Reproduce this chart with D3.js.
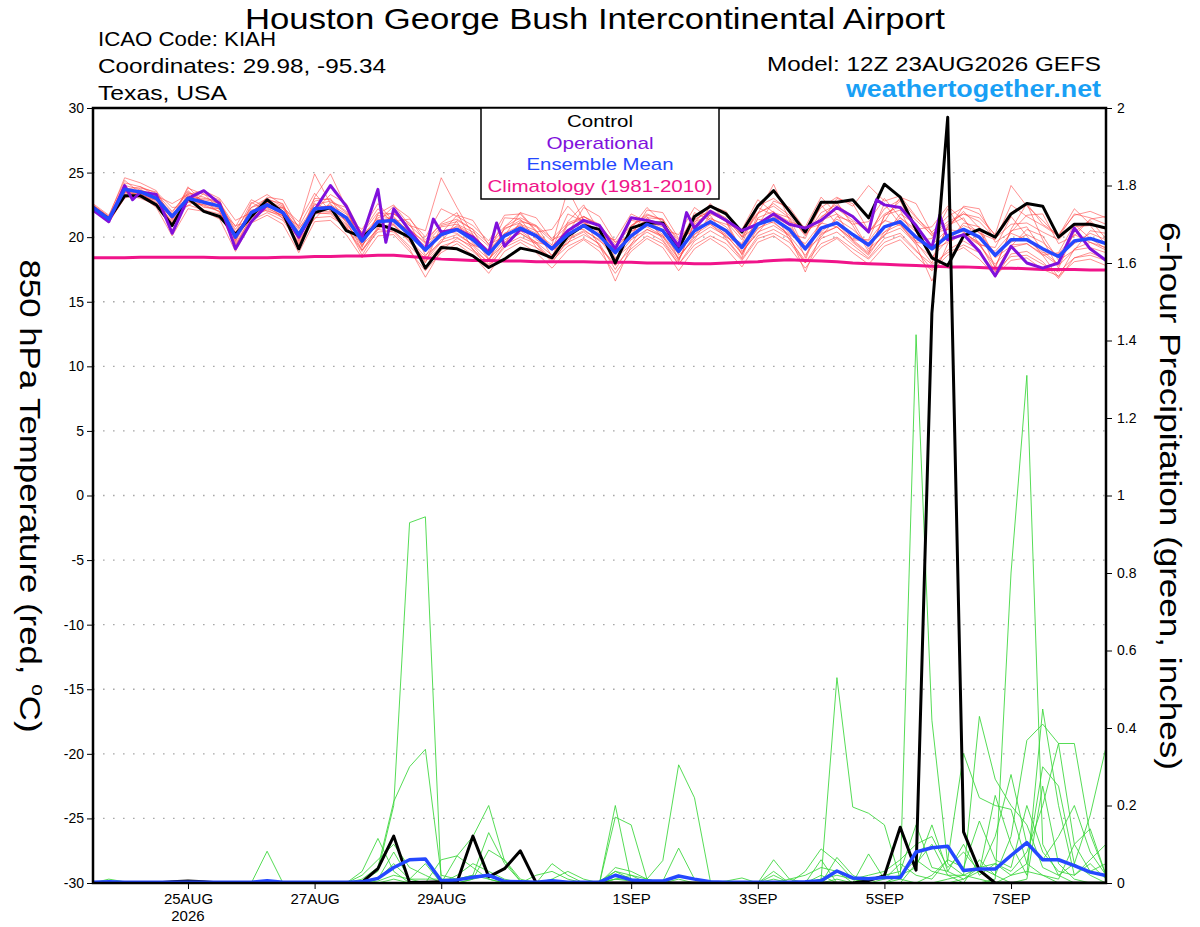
<!DOCTYPE html>
<html>
<head>
<meta charset="utf-8">
<title>KIAH GEFS 850 hPa temperature and 6-hour precipitation</title>
<script src="https://cdn.jsdelivr.net/npm/d3@7"></script>
<style>
  body { margin: 0; background: #fff; }
  text { font-family: "Liberation Sans", Arial, Helvetica, sans-serif; }
</style>
</head>
<body>
<div id="chart"></div>
<script>
// 6-hourly steps from 12Z 23AUG2026 out to 384 h
const stepHours = 6;
const maxHours = 384;

const dateTickHours = [36, 84, 132, 204, 252, 300, 348];
const dateTickLabels = ['25AUG', '27AUG', '29AUG', '1SEP', '3SEP', '5SEP', '7SEP'];
const yearLabel = '2026';

const tempTicks = [-30, -25, -20, -15, -10, -5, 0, 5, 10, 15, 20, 25, 30];
const tempTickLabels = ['-30', '-25', '-20', '-15', '-10', '-5', '0', '5', '10', '15', '20', '25', '30'];
const gridTemps = [-25, -20, -15, -10, -5, 0, 5, 10, 15, 20, 25];
const precipTicks = [0, 0.2, 0.4, 0.6, 0.8, 1, 1.2, 1.4, 1.6, 1.8, 2];
const precipTickLabels = ['0', '0.2', '0.4', '0.6', '0.8', '1', '1.2', '1.4', '1.6', '1.8', '2'];

const legendNames = ['Control', 'Operational', 'Ensemble Mean', 'Climatology (1981-2010)'];

// 850 hPa temperature, deg C
const controlTemp = [
  22.3, 21.4, 23.2, 23.2, 22.5, 20.9, 23.0, 22.0, 21.6, 20.2,
  21.6, 22.9, 21.9, 19.1, 21.9, 22.3, 20.5, 20.0, 21.0, 20.6,
  20.0, 17.6, 19.2, 19.1, 18.55, 17.65, 18.3, 19.15, 18.9, 18.4,
  20.1, 20.9, 20.6, 18.0, 20.7, 21.1, 21.1, 19.1, 21.6, 22.4,
  21.8, 20.4, 22.4, 23.6, 22.0, 20.4, 22.7, 22.7, 22.9, 21.5,
  24.1, 23.1, 20.6, 18.4, 17.8, 20.1, 20.6, 20.0, 21.8, 22.6,
  22.4, 20.0, 21.0, 21.0, 20.7];
const meanTemp = [
  22.3, 21.4, 23.7, 23.5, 23.0, 21.6, 23.0, 22.7, 22.4, 20.0,
  21.9, 22.5, 21.9, 20.2, 22.2, 22.3, 21.5, 19.7, 21.2, 21.3,
  20.2, 19.0, 20.2, 20.6, 19.8, 18.7, 20.1, 20.7, 20.1, 19.1,
  20.2, 20.9, 20.1, 18.8, 20.1, 21.0, 20.5, 18.9, 20.5, 21.2,
  20.5, 19.2, 21.0, 21.4, 20.6, 19.1, 20.7, 21.1, 20.2, 19.4,
  20.8, 21.2, 20.0, 19.1, 20.1, 20.6, 20.0, 18.6, 19.8, 19.8,
  19.1, 18.5, 19.7, 19.9, 19.5];
const climoTemp = [
  18.4, 18.4, 18.4, 18.45, 18.45, 18.45, 18.45, 18.45, 18.4, 18.4,
  18.4, 18.4, 18.45, 18.45, 18.5, 18.5, 18.55, 18.55, 18.6, 18.6,
  18.5, 18.4, 18.3, 18.25, 18.2, 18.2, 18.15, 18.15, 18.1, 18.1,
  18.1, 18.1, 18.05, 18.05, 18.05, 18.0, 18.0, 18.0, 17.95, 17.95,
  18.0, 18.05, 18.1, 18.2, 18.25, 18.2, 18.15, 18.1, 18.0, 17.95,
  17.9, 17.85, 17.8, 17.75, 17.7, 17.7, 17.65, 17.6, 17.6, 17.55,
  17.5, 17.5, 17.5, 17.45, 17.45];
// operational run has some 3-hourly points
const opHours = [
  0, 6, 12, 15, 18, 24, 30, 36, 42, 48, 54, 60, 66, 72, 78, 84, 90, 96, 102, 108,
  111, 114, 120, 126, 129, 132, 138, 144, 150, 153, 156, 162, 168, 174, 180, 186, 192, 198, 204, 210,
  216, 222, 225, 228, 234, 240, 246, 252, 258, 264, 270, 276, 282, 288, 294, 297, 300, 306, 312, 318,
  321, 324, 330, 336, 342, 348, 354, 360, 366, 372, 378, 384];
const opTemp = [
  22.1, 21.2, 24.0, 22.9, 23.5, 23.3, 20.3, 23.0, 23.6, 22.6, 19.1, 21.2, 22.5, 21.9, 20.0, 22.1, 24.0, 22.4, 20.0, 23.7,
  19.6, 22.2, 20.5, 19.0, 21.4, 20.4, 20.6, 20.0, 18.8, 21.1, 19.3, 20.6, 20.1, 19.1, 20.5, 21.3, 20.9, 19.1, 21.5, 21.3,
  21.0, 19.3, 21.9, 20.7, 22.0, 21.3, 20.5, 21.0, 21.8, 21.0, 20.7, 21.3, 22.3, 21.6, 20.4, 22.9, 22.5, 22.3, 20.9, 19.2,
  21.7, 19.8, 20.2, 18.9, 17.0, 19.3, 18.0, 17.6, 18.0, 20.7, 19.1, 18.2];

// ensemble members (temperature)
const tm01 = [
  22.4, 21.5, 24.2, 23.9, 23.4, 22.0, 23.4, 23.1, 22.6, 20.6,
  22.3, 23.0, 22.4, 20.8, 23.0, 22.9, 22.0, 20.3, 21.9, 21.8,
  20.9, 19.8, 21.0, 21.4, 20.6, 19.5, 20.8, 21.5, 20.9, 19.9,
  21.1, 21.6, 20.8, 19.6, 20.9, 21.8, 21.3, 19.8, 21.4, 22.0,
  21.4, 20.1, 21.9, 22.4, 21.5, 20.2, 21.6, 22.2, 21.3, 20.4,
  21.8, 22.4, 21.3, 20.2, 21.2, 21.8, 21.2, 19.9, 21.0, 21.1,
  20.4, 19.8, 21.0, 21.1, 20.7];
const tm02 = [
  22.2, 21.2, 23.3, 23.0, 22.5, 21.0, 22.5, 22.1, 21.8, 19.4,
  21.3, 21.9, 21.3, 19.5, 21.5, 21.6, 20.8, 19.0, 20.4, 20.5,
  19.3, 18.1, 19.3, 19.7, 18.9, 17.8, 19.2, 19.8, 19.2, 18.2,
  19.3, 19.9, 19.2, 17.8, 19.1, 20.1, 19.5, 17.9, 19.4, 20.1,
  19.5, 18.2, 19.9, 20.3, 19.6, 18.0, 19.5, 20.0, 19.1, 18.3,
  19.6, 20.1, 18.9, 17.9, 18.8, 19.4, 18.8, 17.4, 18.5, 18.6,
  17.9, 17.3, 18.4, 18.6, 18.2];
const tm03 = [
  22.5, 21.6, 24.6, 24.2, 23.6, 21.3, 23.8, 23.3, 22.9, 19.6,
  22.6, 23.3, 22.5, 19.7, 23.1, 24.9, 22.3, 19.2, 21.8, 22.5,
  20.9, 20.5, 24.6, 22.3, 20.2, 18.2, 20.8, 21.9, 20.5, 18.5,
  21.2, 22.5, 20.4, 17.9, 20.7, 22.3, 21.1, 18.2, 21.1, 22.6,
  21.2, 18.6, 21.8, 24.1, 21.3, 18.4, 21.5, 22.7, 20.9, 18.9,
  21.6, 22.8, 20.4, 18.3, 20.8, 22.0, 20.7, 17.6, 20.6, 22.6,
  19.8, 17.6, 20.4, 21.3, 19.9];
const tm04 = [
  22.3, 21.3, 23.5, 23.6, 23.2, 20.5, 22.8, 22.4, 22.0, 19.3,
  21.6, 22.1, 21.5, 19.6, 21.8, 21.9, 20.9, 18.6, 20.6, 20.4,
  19.1, 16.9, 19.0, 19.9, 19.3, 17.9, 19.6, 20.3, 19.5, 18.0,
  19.8, 20.4, 19.4, 16.6, 19.3, 20.6, 20.0, 18.3, 20.2, 21.0,
  20.2, 18.7, 20.7, 21.2, 20.1, 17.3, 20.2, 20.8, 19.6, 18.6,
  20.4, 21.0, 19.4, 16.6, 19.5, 20.3, 19.6, 17.3, 19.4, 19.5,
  18.6, 16.9, 19.1, 19.6, 19.0];
const tm05 = [
  22.3, 21.4, 23.9, 23.3, 22.8, 21.8, 22.9, 22.9, 22.7, 20.4,
  21.8, 22.7, 22.2, 20.6, 22.5, 22.8, 21.9, 20.1, 21.5, 21.9,
  20.6, 19.5, 20.8, 21.0, 20.4, 19.3, 20.6, 21.3, 20.8, 19.7,
  20.9, 21.6, 21.0, 19.4, 20.8, 21.7, 21.4, 19.6, 21.3, 22.1,
  21.5, 20.0, 21.8, 22.6, 21.7, 20.1, 21.9, 22.5, 21.6, 20.3,
  22.2, 22.9, 21.5, 20.4, 21.6, 22.3, 21.8, 20.1, 21.9, 22.6,
  21.0, 20.2, 21.7, 22.0, 21.5];
const tm06 = [
  22.1, 21.2, 23.0, 23.8, 23.5, 22.3, 22.4, 23.4, 22.1, 20.9,
  21.2, 22.9, 22.6, 19.8, 21.4, 22.7, 22.3, 19.4, 20.6, 21.8,
  21.1, 18.6, 19.6, 21.3, 20.6, 18.3, 19.5, 21.2, 20.9, 19.0,
  19.5, 21.6, 20.9, 18.4, 19.4, 21.5, 21.4, 18.6, 19.8, 21.8,
  21.3, 18.9, 20.3, 21.9, 21.5, 19.0, 20.0, 21.6, 21.2, 19.1,
  20.1, 21.8, 21.0, 19.0, 19.6, 21.1, 20.8, 18.4, 19.3, 20.6,
  20.1, 18.2, 19.0, 20.5, 20.3];
const tm07 = [
  22.4, 21.5, 23.6, 23.2, 22.7, 21.2, 23.3, 22.3, 22.2, 19.8,
  22.1, 22.3, 21.6, 20.1, 22.6, 22.1, 21.0, 19.5, 21.4, 21.0,
  19.8, 18.5, 20.5, 20.3, 19.4, 18.9, 20.3, 20.5, 19.6, 19.3,
  20.6, 20.6, 19.7, 18.9, 20.5, 20.8, 20.1, 18.7, 20.9, 21.0,
  20.0, 19.4, 21.4, 21.1, 20.2, 19.5, 21.1, 20.8, 19.8, 19.7,
  21.3, 20.9, 19.6, 19.4, 20.6, 20.4, 19.5, 18.9, 20.3, 19.8,
  18.8, 18.7, 20.2, 19.6, 19.2];
const tm08 = [
  22.2, 21.4, 24.0, 23.7, 23.1, 21.9, 23.6, 22.6, 22.2, 20.3,
  22.7, 22.0, 21.7, 20.9, 24.9, 22.6, 21.2, 20.4, 22.2, 21.1,
  20.6, 19.6, 21.1, 21.9, 19.5, 18.8, 21.5, 21.4, 19.8, 19.1,
  21.8, 21.2, 19.9, 19.1, 21.3, 21.1, 20.2, 19.4, 21.9, 21.3,
  20.3, 19.5, 22.3, 21.7, 20.3, 19.9, 22.5, 21.0, 19.9, 19.8,
  22.6, 21.0, 19.7, 19.9, 22.2, 20.4, 19.4, 19.2, 21.6, 20.1,
  18.6, 18.8, 21.0, 19.9, 19.1];
const tm09 = [
  22.3, 21.3, 23.4, 23.4, 23.0, 21.5, 22.7, 22.5, 22.5, 19.7,
  21.7, 22.4, 21.8, 19.9, 22.0, 22.0, 21.3, 19.0, 20.8, 21.0,
  19.6, 18.2, 19.6, 20.0, 19.1, 17.6, 19.4, 20.0, 19.5, 18.3,
  19.6, 20.2, 19.5, 17.5, 19.5, 20.4, 19.7, 17.9, 19.7, 20.5,
  19.8, 18.3, 20.1, 20.6, 19.9, 18.0, 19.9, 20.4, 19.4, 18.4,
  19.9, 20.3, 19.0, 17.5, 19.0, 19.7, 19.0, 16.9, 18.7, 18.9,
  18.1, 16.8, 18.4, 18.8, 18.3];
const tm10 = [
  22.5, 21.6, 23.8, 23.5, 23.3, 21.7, 23.1, 23.0, 22.8, 20.1,
  21.9, 22.8, 22.3, 20.4, 22.1, 22.5, 21.8, 19.9, 21.0, 21.6,
  20.3, 19.1, 20.0, 20.9, 20.2, 18.9, 20.0, 21.0, 20.5, 19.0,
  20.0, 21.1, 20.5, 18.9, 19.9, 21.2, 20.8, 19.1, 20.2, 21.5,
  20.8, 19.3, 20.6, 21.6, 20.9, 19.3, 20.4, 21.4, 20.6, 19.5,
  20.4, 21.5, 20.4, 19.3, 19.9, 20.9, 20.4, 18.7, 19.6, 20.2,
  19.6, 18.5, 19.5, 20.3, 19.8];
const tm11 = [
  22.2, 21.3, 23.5, 23.6, 22.9, 21.4, 23.2, 22.8, 22.3, 20.2,
  22.0, 22.6, 22.0, 20.3, 22.3, 22.4, 21.6, 19.8, 21.3, 21.5,
  20.4, 19.3, 20.4, 20.8, 20.1, 19.0, 20.3, 20.9, 20.3, 19.4,
  23.7, 21.3, 20.3, 19.2, 20.4, 21.4, 21.0, 19.3, 21.0, 21.9,
  21.2, 19.8, 22.4, 23.0, 22.1, 20.5, 22.3, 23.1, 22.4, 24.0,
  22.8, 23.2, 21.6, 20.1, 21.0, 21.8, 21.5, 20.2, 24.0, 22.4,
  21.3, 20.0, 21.8, 21.5, 21.0];
const tm12 = [
  22.4, 21.4, 23.6, 23.3, 22.9, 21.1, 22.9, 22.5, 22.0, 19.5,
  21.5, 22.2, 21.7, 19.4, 21.9, 21.8, 20.7, 18.9, 20.7, 20.9,
  19.7, 18.3, 19.8, 20.2, 19.4, 18.3, 19.8, 20.3, 19.6, 18.6,
  19.9, 20.5, 19.8, 18.3, 19.8, 20.6, 20.1, 18.4, 20.0, 20.8,
  20.1, 18.8, 20.4, 20.9, 20.1, 18.6, 20.3, 20.8, 19.8, 18.8,
  20.2, 20.7, 19.5, 18.4, 19.8, 20.2, 19.4, 17.9, 19.2, 19.5,
  18.7, 17.8, 19.0, 19.2, 18.8];
const tm13 = [
  22.6, 21.7, 24.4, 23.4, 22.6, 21.5, 23.9, 22.6, 22.7, 20.8,
  22.9, 22.3, 22.3, 21.2, 23.4, 22.0, 21.5, 20.6, 22.6, 21.2,
  21.4, 20.0, 22.2, 21.6, 20.9, 19.7, 21.7, 21.8, 20.4, 20.6,
  22.4, 21.1, 20.1, 19.8, 21.8, 21.2, 20.6, 20.2, 22.3, 21.4,
  21.0, 20.6, 22.9, 21.9, 21.2, 20.8, 23.1, 21.8, 21.0, 21.2,
  23.0, 21.5, 20.6, 20.8, 22.4, 21.3, 20.3, 19.8, 22.5, 21.6,
  20.9, 20.1, 22.2, 21.0, 20.6];
const tm14 = [
  22.1, 21.1, 23.1, 23.2, 22.3, 20.1, 22.2, 22.0, 21.4, 18.9,
  21.1, 21.7, 21.0, 18.8, 21.2, 21.3, 20.2, 18.4, 20.1, 20.2,
  18.9, 17.4, 18.8, 19.5, 18.6, 17.2, 18.9, 19.6, 18.8, 17.6,
  19.0, 19.8, 18.9, 17.2, 18.9, 19.9, 19.2, 17.4, 19.1, 19.9,
  19.1, 17.7, 19.6, 20.1, 19.2, 17.6, 19.2, 19.9, 18.8, 17.9,
  19.3, 19.8, 18.5, 17.4, 18.6, 19.2, 18.3, 17.0, 18.2, 18.4,
  17.5, 17.0, 18.1, 18.3, 17.8];
const tm15 = [
  22.3, 21.5, 23.7, 23.9, 23.2, 22.6, 23.3, 23.6, 23.0, 21.3,
  21.9, 23.1, 22.9, 20.7, 22.0, 23.3, 22.6, 20.2, 21.2, 22.4,
  21.5, 19.6, 20.3, 21.7, 21.3, 19.4, 20.1, 21.9, 21.5, 19.8,
  20.3, 22.3, 21.6, 19.6, 20.1, 22.1, 21.9, 19.9, 20.5, 22.4,
  22.0, 20.0, 20.9, 22.8, 22.3, 20.6, 21.0, 23.0, 22.6, 20.5,
  21.2, 23.1, 22.6, 20.3, 20.6, 22.4, 22.2, 19.6, 20.4, 21.7,
  21.8, 19.5, 20.1, 21.4, 21.6];
const tm16 = [
  22.4, 21.4, 23.5, 23.1, 22.9, 21.0, 23.5, 22.8, 21.9, 19.9,
  22.3, 22.7, 21.4, 19.9, 22.8, 23.0, 21.1, 19.3, 21.7, 21.4,
  19.9, 18.0, 20.9, 21.2, 19.0, 18.1, 20.7, 21.1, 19.2, 18.4,
  21.0, 21.4, 19.3, 17.9, 20.9, 21.6, 19.8, 18.1, 21.2, 21.7,
  19.9, 18.4, 21.5, 22.0, 19.8, 18.2, 21.3, 21.8, 19.7, 18.7,
  21.7, 22.1, 19.6, 18.0, 20.9, 21.5, 19.4, 17.7, 20.5, 20.8,
  18.9, 17.9, 20.8, 20.9, 19.4];
const tempMembers = [tm01, tm02, tm03, tm04, tm05, tm06, tm07, tm08,
                     tm09, tm10, tm11, tm12, tm13, tm14, tm15, tm16];

// 6-hour precipitation, inches
const controlPrecip = [
  0, 0, 0, 0, 0, 0.003, 0.005, 0.003, 0, 0,
  0, 0, 0, 0, 0, 0, 0, 0.002, 0.037, 0.121,
  0.001, 0.002, 0.003, 0.002, 0.121, 0.016, 0.037, 0.083, 0, 0,
  0, 0, 0, 0, 0, 0, 0, 0, 0, 0,
  0, 0, 0, 0, 0, 0, 0, 0, 0, 0.006,
  0.019, 0.144, 0.033, 1.47, 1.976, 0.132, 0.033, 0, 0, 0,
  0, 0, 0, 0, 0];
const meanPrecip = [
  0.002, 0.003, 0.002, 0.002, 0.002, 0.002, 0.002, 0.002, 0.002, 0.002,
  0.002, 0.006, 0.002, 0.002, 0.002, 0.002, 0.002, 0.003, 0.012, 0.04,
  0.06, 0.062, 0.006, 0.008, 0.015, 0.02, 0.004, 0.003, 0.002, 0.006,
  0.002, 0.002, 0.002, 0.02, 0.008, 0.005, 0.005, 0.018, 0.01, 0.003,
  0.002, 0.002, 0.002, 0.002, 0.002, 0.003, 0.006, 0.031, 0.013, 0.011,
  0.014, 0.014, 0.08, 0.091, 0.095, 0.032, 0.036, 0.036, 0.071, 0.104,
  0.06, 0.06, 0.045, 0.028, 0.019];

// ensemble members (precipitation)
const pm01 = [
  0, 0.01, 0.003, 0, 0, 0, 0, 0, 0, 0,
  0, 0, 0, 0, 0, 0, 0, 0.005, 0.03, 0.2,
  0.93, 0.945, 0, 0, 0.01, 0.02, 0.005, 0, 0, 0,
  0, 0, 0, 0.01, 0.005, 0, 0, 0, 0, 0,
  0, 0, 0, 0, 0, 0, 0.01, 0.02, 0.01, 0,
  0, 0, 0.05, 0.1, 0.02, 0, 0.06, 0.02, 0, 0.01,
  0.25, 0.05, 0.01, 0, 0];
const pm02 = [
  0, 0, 0, 0, 0, 0, 0, 0, 0, 0,
  0, 0, 0, 0, 0, 0, 0, 0.01, 0.04, 0.21,
  0.30, 0.345, 0.02, 0.01, 0.02, 0.13, 0.05, 0.005, 0, 0,
  0, 0, 0, 0.03, 0.02, 0.01, 0, 0, 0, 0,
  0, 0, 0, 0.02, 0, 0, 0, 0, 0, 0,
  0, 0, 0, 0.02, 0.06, 0.334, 0.22, 0.2, 0.19, 0.05,
  0.02, 0, 0, 0, 0];
const pm03 = [
  0, 0, 0, 0, 0, 0, 0, 0, 0, 0,
  0, 0.082, 0, 0, 0, 0, 0, 0.03, 0.115, 0.03,
  0, 0, 0, 0.07, 0.12, 0.2, 0.057, 0.005, 0, 0,
  0, 0, 0, 0.2, 0.005, 0, 0, 0, 0, 0,
  0, 0, 0, 0, 0, 0, 0.01, 0.53, 0.196, 0.18,
  0.15, 0.01, 0, 0, 0, 0, 0, 0, 0.02, 0.03,
  0.02, 0.01, 0.1, 0.14, 0.02];
const pm04 = [
  0, 0, 0, 0, 0, 0, 0, 0, 0, 0,
  0, 0, 0, 0, 0, 0, 0, 0, 0.01, 0.08,
  0.01, 0, 0.06, 0.07, 0.04, 0.01, 0, 0, 0, 0,
  0, 0, 0, 0.17, 0.15, 0.01, 0.058, 0.305, 0.22, 0.005,
  0, 0, 0, 0, 0, 0, 0, 0, 0, 0,
  0, 0.01, 1.415, 0.42, 0.05, 0.02, 0.01, 0, 0, 0,
  0, 0, 0, 0, 0];
const pm05 = [
  0, 0, 0, 0, 0, 0, 0, 0, 0, 0,
  0, 0, 0, 0, 0, 0, 0, 0, 0.01, 0.05,
  0.01, 0.05, 0, 0, 0.01, 0.085, 0.06, 0.01, 0, 0.05,
  0.02, 0, 0, 0.01, 0.01, 0, 0.005, 0.09, 0.01, 0,
  0, 0, 0, 0.03, 0, 0, 0.02, 0, 0, 0,
  0, 0, 0, 0, 0.01, 0.02, 0.43, 0.268, 0.2, 0.15,
  0.04, 0.02, 0.05, 0.02, 0];
const pm06 = [
  0, 0, 0, 0, 0, 0, 0, 0, 0, 0,
  0, 0, 0, 0, 0, 0, 0, 0, 0, 0,
  0, 0, 0, 0, 0, 0, 0, 0, 0, 0,
  0, 0, 0, 0, 0, 0, 0, 0, 0, 0,
  0, 0, 0, 0.06, 0.01, 0, 0, 0.066, 0.02, 0,
  0, 0, 0, 0, 0, 0, 0, 0.01, 0.8, 1.31,
  0.1, 0.02, 0, 0, 0];
const pm07 = [
  0, 0, 0, 0, 0, 0, 0, 0, 0, 0,
  0, 0, 0, 0, 0, 0, 0, 0, 0, 0,
  0, 0, 0, 0, 0, 0, 0, 0, 0.02, 0.03,
  0.01, 0, 0.005, 0.03, 0.01, 0.005, 0, 0, 0, 0,
  0.005, 0.013, 0, 0, 0, 0, 0, 0, 0, 0.075,
  0.01, 0.02, 0.04, 0.15, 0.03, 0.01, 0.03, 0.226, 0.1, 0.02,
  0.449, 0.2, 0.02, 0.05, 0.01];
const pm08 = [
  0, 0, 0, 0, 0, 0, 0, 0, 0, 0,
  0, 0, 0, 0, 0, 0, 0, 0, 0, 0,
  0, 0, 0, 0, 0, 0, 0, 0, 0, 0,
  0, 0, 0, 0, 0, 0, 0, 0, 0, 0,
  0, 0, 0, 0, 0, 0.03, 0.088, 0.055, 0.01, 0,
  0, 0, 0, 0, 0, 0.01, 0.04, 0.02, 0.12, 0.368,
  0.41, 0.36, 0.36, 0.126, 0.02];
const pm09 = [
  0, 0, 0, 0, 0, 0, 0, 0, 0, 0,
  0, 0, 0, 0, 0, 0, 0, 0, 0, 0.01,
  0, 0, 0, 0, 0, 0, 0, 0, 0, 0,
  0, 0, 0, 0, 0, 0, 0, 0, 0, 0,
  0, 0, 0, 0, 0, 0, 0.06, 0, 0, 0.01,
  0.02, 0.03, 0.15, 0.04, 0.03, 0.1, 0.02, 0.05, 0.02, 0.05,
  0.3, 0.25, 0.05, 0.175, 0.35];
const pm10 = [
  0, 0, 0, 0, 0, 0, 0, 0, 0, 0,
  0, 0, 0, 0, 0, 0, 0, 0, 0, 0,
  0, 0, 0, 0, 0, 0, 0, 0, 0, 0,
  0, 0, 0, 0, 0, 0, 0, 0, 0, 0,
  0, 0, 0, 0, 0, 0, 0, 0.03, 0, 0,
  0, 0.02, 0.06, 0.03, 0.02, 0.02, 0.04, 0.05, 0.03, 0.08,
  0.2, 0.36, 0.1, 0.03, 0.05];
const pm11 = [
  0, 0, 0, 0, 0, 0, 0, 0, 0, 0,
  0, 0, 0, 0, 0, 0, 0, 0.02, 0.06, 0.1,
  0.04, 0.02, 0, 0.02, 0.05, 0.03, 0.01, 0, 0, 0.01,
  0.03, 0.01, 0, 0.04, 0.03, 0.01, 0, 0.02, 0.01, 0,
  0, 0, 0, 0, 0.01, 0.02, 0.04, 0.03, 0.01, 0.02,
  0.03, 0.06, 0.1, 0.12, 0.04, 0.08, 0.03, 0.12, 0.28, 0.1,
  0.06, 0.12, 0.2, 0.08, 0.02];
const pm12 = [
  0, 0, 0, 0, 0, 0, 0, 0, 0, 0,
  0, 0, 0, 0, 0, 0, 0, 0, 0.005, 0.02,
  0.01, 0.01, 0.01, 0.01, 0.02, 0.01, 0, 0, 0, 0,
  0, 0, 0, 0.01, 0.02, 0, 0, 0.01, 0, 0,
  0, 0, 0, 0.01, 0, 0, 0, 0.01, 0, 0,
  0.01, 0.05, 0.02, 0.01, 0.06, 0.04, 0.16, 0.06, 0.04, 0.2,
  0.08, 0.03, 0.02, 0.06, 0.1];
const precipMembers = [pm01, pm02, pm03, pm04, pm05, pm06, pm07, pm08, pm09, pm10, pm11, pm12];

const w = 1200;
const h = 927;
const plotLeft = 93, plotRight = 1106, plotTop = 108, plotBottom = 883;

const svg = d3.select('#chart')
    .append('svg')
    .attr('width', w)
    .attr('height', h);

svg.append('rect').attr('width', w).attr('height', h).attr('fill', '#fff');

const x = d3.scaleLinear().domain([0, maxHours]).range([plotLeft, plotRight]);
const yT = d3.scaleLinear().domain([-30, 30]).range([plotBottom, plotTop]);
const yP = d3.scaleLinear().domain([0, 2]).range([plotBottom, plotTop]);

svg.append('clipPath').attr('id', 'plot-clip')
    .append('rect')
    .attr('x', plotLeft).attr('y', plotTop)
    .attr('width', plotRight - plotLeft).attr('height', plotBottom - plotTop);

// dotted grid on the temperature ticks
svg.append('g')
    .selectAll('line')
    .data(gridTemps)
    .join('line')
    .attr('x1', x(0)).attr('x2', x(maxHours))
    .attr('y1', d => yT(d)).attr('y2', d => yT(d))
    .attr('stroke', '#a8a8a8')
    .attr('stroke-width', 1.4)
    .attr('stroke-dasharray', '1.6,8.4');

const plot = svg.append('g').attr('clip-path', 'url(#plot-clip)');

const lineT = d3.line().x((d, i) => x(i * stepHours)).y(d => yT(d));
const lineP = d3.line().x((d, i) => x(i * stepHours)).y(d => yP(d));
const lineOp = d3.line().x(d => x(d[0])).y(d => yT(d[1]));

function addPath(d, gen, color, width, opacity) {
    plot.append('path')
        .datum(d)
        .attr('d', gen)
        .attr('fill', 'none')
        .attr('stroke', color)
        .attr('stroke-width', width)
        .attr('stroke-opacity', opacity)
        .attr('stroke-linejoin', 'round')
        .attr('stroke-linecap', 'round');
}

tempMembers.forEach(m => addPath(m, lineT, '#ff3c3c', 0.75, 0.75));
addPath(climoTemp, lineT, '#f0148a', 3, 1);
addPath(controlTemp, lineT, '#000000', 3, 1);
addPath(d3.zip(opHours, opTemp), lineOp, '#8010dc', 3, 1);
addPath(meanTemp, lineT, '#2448ff', 3.5, 1);

precipMembers.forEach(m => addPath(m, lineP, '#38d638', 0.85, 1));
addPath(controlPrecip, lineP, '#000000', 3, 1);
addPath(meanPrecip, lineP, '#2448ff', 3.5, 1);

// axes
const axisFont = g => g.selectAll('text')
    .attr('font-size', 14)
    .attr('fill', '#000')
    .style('font-family', '"Liberation Sans", Arial, sans-serif');

svg.append('g')
    .attr('transform', `translate(${plotLeft},0)`)
    .call(d3.axisLeft(yT).tickValues(tempTicks).tickFormat((d, i) => tempTickLabels[i]).tickSize(6).tickPadding(3))
    .call(g => g.select('.domain').remove())
    .call(axisFont);

svg.append('g')
    .attr('transform', `translate(${plotRight},0)`)
    .call(d3.axisRight(yP).tickValues(precipTicks).tickFormat((d, i) => precipTickLabels[i]).tickSize(6).tickPadding(5))
    .call(g => g.select('.domain').remove())
    .call(axisFont);

const xAxis = svg.append('g')
    .attr('transform', `translate(0,${plotBottom})`)
    .call(d3.axisBottom(x).tickValues(dateTickHours).tickFormat((d, i) => dateTickLabels[i]).tickSize(6).tickPadding(4))
    .call(g => g.select('.domain').remove())
    .call(axisFont);
xAxis.selectAll('text').attr('font-size', 15);

svg.append('text')
    .attr('x', x(dateTickHours[0])).attr('y', 921)
    .attr('text-anchor', 'middle')
    .attr('font-size', 15)
    .text(yearLabel);

// frame
svg.append('rect')
    .attr('x', plotLeft).attr('y', plotTop)
    .attr('width', plotRight - plotLeft).attr('height', plotBottom - plotTop)
    .attr('fill', 'none')
    .attr('stroke', '#000')
    .attr('stroke-width', 2.5);

// legend box
const legendColors = ['#000000', '#8010dc', '#2448ff', '#f0148a'];
const legendWidths = [66, 107, 147, 225];
svg.append('rect')
    .attr('x', 481).attr('y', plotTop)
    .attr('width', 238).attr('height', 91)
    .attr('fill', '#fff')
    .attr('stroke', '#000')
    .attr('stroke-width', 1.5);
svg.append('g')
    .selectAll('text')
    .data(legendNames)
    .join('text')
    .attr('x', 600)
    .attr('y', (d, i) => 127 + i * 21.5)
    .attr('text-anchor', 'middle')
    .attr('font-size', 17)
    .attr('textLength', (d, i) => legendWidths[i])
    .attr('lengthAdjust', 'spacingAndGlyphs')
    .attr('fill', (d, i) => legendColors[i])
    .text(d => d);

// header texts
svg.append('text')
    .attr('x', 595).attr('y', 29)
    .attr('text-anchor', 'middle')
    .attr('font-size', 30)
    .attr('textLength', 700)
    .attr('lengthAdjust', 'spacingAndGlyphs')
    .text('Houston George Bush Intercontinental Airport');

const info = [
    {t: 'ICAO Code: KIAH', y: 46, len: 178},
    {t: 'Coordinates: 29.98, -95.34', y: 73, len: 288},
    {t: 'Texas, USA', y: 100, len: 129}
];
svg.append('g')
    .selectAll('text')
    .data(info)
    .join('text')
    .attr('x', 98)
    .attr('y', d => d.y)
    .attr('font-size', 21)
    .attr('textLength', d => d.len)
    .attr('lengthAdjust', 'spacingAndGlyphs')
    .text(d => d.t);

svg.append('text')
    .attr('x', 1101).attr('y', 71)
    .attr('text-anchor', 'end')
    .attr('font-size', 21)
    .attr('textLength', 334)
    .attr('lengthAdjust', 'spacingAndGlyphs')
    .text('Model: 12Z 23AUG2026 GEFS');

svg.append('text')
    .attr('x', 1101).attr('y', 97)
    .attr('text-anchor', 'end')
    .attr('font-size', 24)
    .attr('font-weight', 'bold')
    .attr('fill', '#19a0f5')
    .attr('textLength', 255)
    .attr('lengthAdjust', 'spacingAndGlyphs')
    .text('weathertogether.net');

// axis titles, reading top to bottom
const leftTitle = svg.append('text')
    .attr('transform', 'translate(20,496) rotate(90) scale(1.16,1)')
    .attr('text-anchor', 'middle')
    .attr('font-size', 30);
leftTitle.append('tspan').text('850 hPa Temperature (red, ');
leftTitle.append('tspan').attr('font-size', 18).attr('dy', -12).text('o');
leftTitle.append('tspan').attr('dy', 12).text('C)');

svg.append('text')
    .attr('transform', 'translate(1160,496) rotate(90) scale(1.17,1)')
    .attr('text-anchor', 'middle')
    .attr('font-size', 30)
    .text('6-hour Precipitation (green, inches)');
</script>
</body>
</html>
